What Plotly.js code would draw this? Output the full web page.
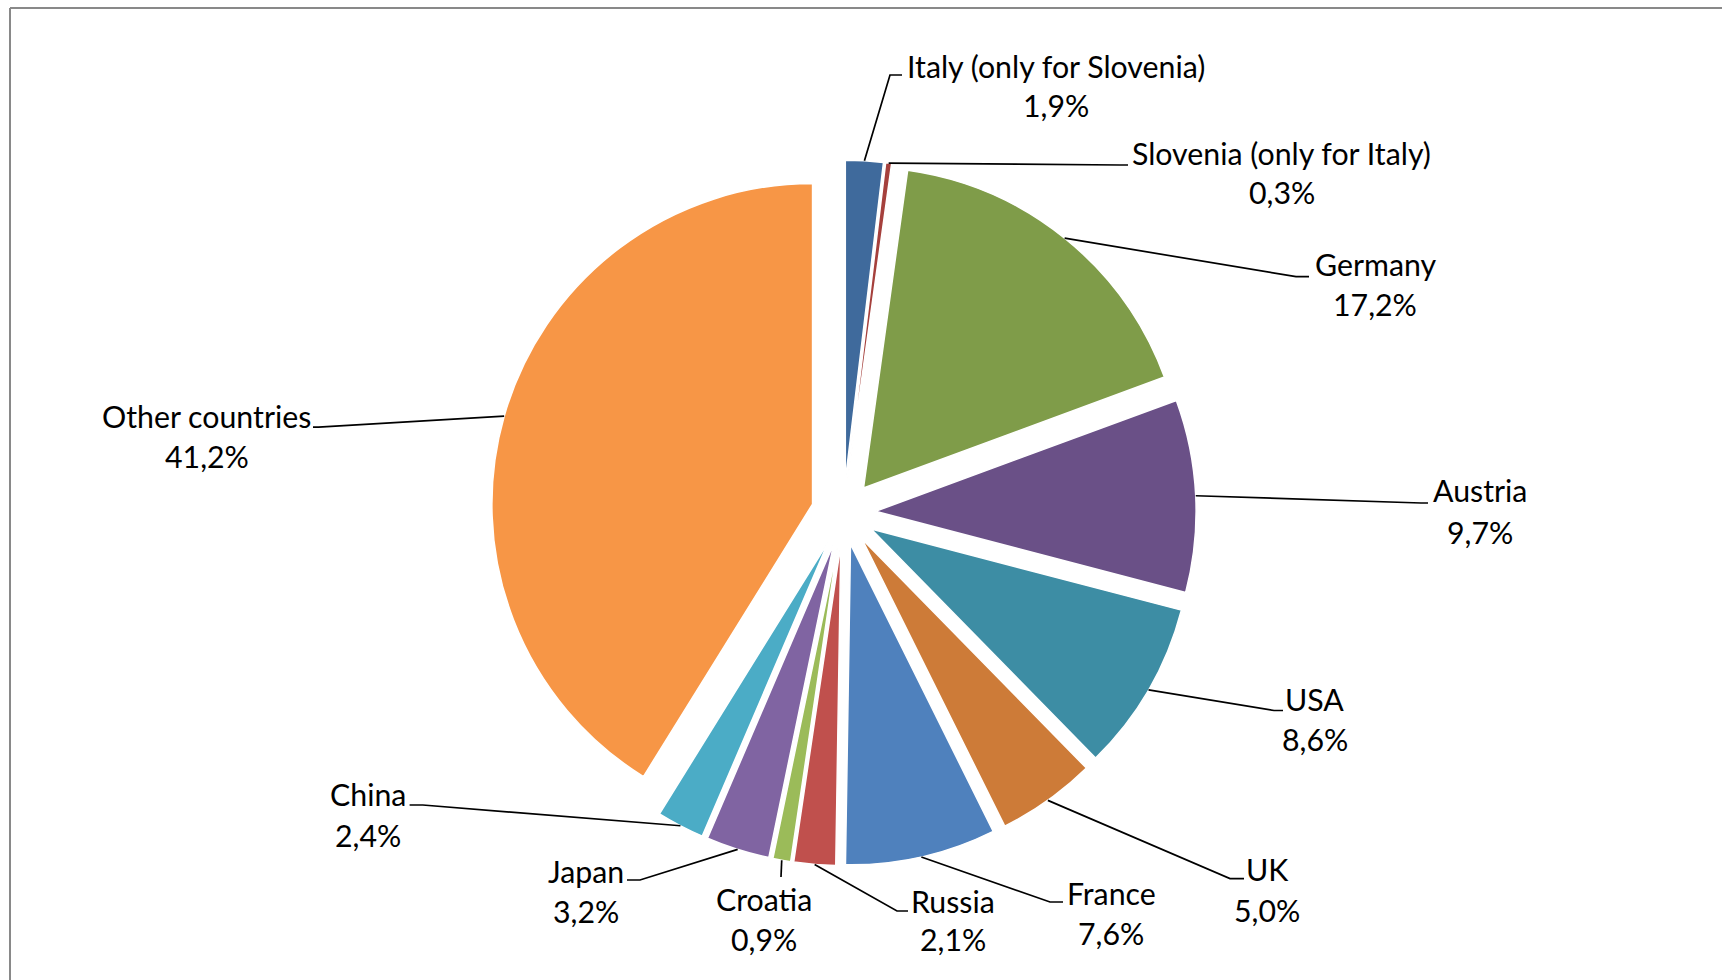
<!DOCTYPE html>
<html>
<head>
<meta charset="utf-8">
<script src="https://cdn.plot.ly/plotly-3.0.1.min.js"></script>
<style>
html,body{margin:0;padding:0;background:#fff;}
#chart{width:1722px;height:980px;}
</style>
</head>
<body>
<div id="chart"></div>
<script>
// ---- data ----
var countries = ["Italy (only for Slovenia)", "Slovenia (only for Italy)", "Germany", "Austria", "USA", "UK",
                 "France", "Russia", "Croatia", "Japan", "China", "Other countries"];
var shares = [1.9, 0.3, 17.2, 9.7, 8.6, 5.0, 7.6, 2.1, 0.9, 3.2, 2.4, 41.2];
var sliceColors = ["#3F6A9C", "#A5403C", "#7F9C49", "#6A5087", "#3D8DA4", "#CD7B38",
                   "#4F81BD", "#C0504D", "#9BBB59", "#8064A2", "#4BACC6", "#F79646"];

// ---- label layout (pixel positions of label blocks and leader-line elbows) ----
// [centerX, nameY, valueY, elbowX, elbowY, endX]
var labelPos = [
  [1056, 68, 106.5, 890, 75, 902],
  [1281.6, 154.8, 194.4, 1120, 165, 1128],
  [1375, 265.8, 306.4, 1296, 276.7, 1309],
  [1480.4, 492, 533.7, 1421, 503, 1428],
  [1314.5, 700.7, 741.3, 1274, 710.5, 1283],
  [1267.3, 870.9, 911.5, 1230, 878.6, 1244],
  [1111.4, 895, 934.6, 1050, 902, 1063],
  [953.2, 902.7, 941.2, 897, 911, 908],
  [764.3, 900.5, 941.2, 781, 877, 781],
  [586.4, 873, 912.6, 640, 880, 627],
  [367.9, 796.2, 836.8, 422.8, 805, 409.6],
  [206.5, 418.4, 458, 318.5, 427.2, 313]
];
var TEXT_DY = -2;

var W = 1722, H = 980;
var PULL = 0.1;
var dom = {x: [0.28493, 0.69463], y: [0.11668, 0.83658]};

// geometry of the pie, following plotly's own pie scaling
var boxW = W * (dom.x[1] - dom.x[0]);
var boxH = H * (dom.y[1] - dom.y[0]);
var R = Math.min(boxW, boxH) / (2 + 2 * PULL);
var CX = W * (dom.x[0] + dom.x[1]) / 2;
var CY = H * (1 - dom.y[0]) - boxH / 2;

var total = shares.reduce(function(a, b){ return a + b; }, 0);
function px(x){ return x / W; }
function py(y){ return 1 - y / H; }

var shapes = [];
var annotations = [];
var cum = 0;
var font = {family: "Lato, 'Open Sans', sans-serif", size: 30.3, color: "#000"};
for (var i = 0; i < shares.length; i++) {
  var mid = 2 * Math.PI * (cum + shares[i] / 2) / total;
  cum += shares[i];
  var ax = CX + R * (1 + PULL) * Math.sin(mid);
  var ay = CY - R * (1 + PULL) * Math.cos(mid);
  var p = labelPos[i];
  shapes.push({
    type: "path", xref: "paper", yref: "paper",
    path: "M" + px(ax) + "," + py(ay) + " L" + px(p[3]) + "," + py(p[4]) + " L" + px(p[5]) + "," + py(p[4]),
    line: {color: "#000", width: 1.7}
  });
  annotations.push({
    xref: "paper", yref: "paper", x: px(p[0]), y: py(p[1] + TEXT_DY),
    xanchor: "center", yanchor: "middle", showarrow: false,
    text: countries[i], font: font
  });
  annotations.push({
    xref: "paper", yref: "paper", x: px(p[0]), y: py(p[2] + TEXT_DY),
    xanchor: "center", yanchor: "middle", showarrow: false,
    text: shares[i].toFixed(1).replace(".", ",") + "%", font: font
  });
}

// outer frame
shapes.push({type: "line", xref: "paper", yref: "paper", x0: px(10), x1: 1.01, y0: py(8), y1: py(8),
             line: {color: "#898989", width: 2}});
shapes.push({type: "line", xref: "paper", yref: "paper", x0: px(10), x1: px(10), y0: py(8), y1: -0.01,
             line: {color: "#898989", width: 2}});

var trace = {
  type: "pie",
  labels: countries,
  values: shares,
  sort: false,
  direction: "clockwise",
  rotation: 0,
  pull: PULL,
  textinfo: "none",
  hoverinfo: "label+percent",
  marker: {colors: sliceColors, line: {color: "#fff", width: 1.5}},
  domain: dom,
  showlegend: false
};

var layout = {
  width: W, height: H,
  margin: {l: 0, r: 0, t: 0, b: 0},
  paper_bgcolor: "#fff",
  showlegend: false,
  shapes: shapes,
  annotations: annotations
};

Plotly.newPlot("chart", [trace], layout, {displayModeBar: false, staticPlot: true});
</script>
</body>
</html>
